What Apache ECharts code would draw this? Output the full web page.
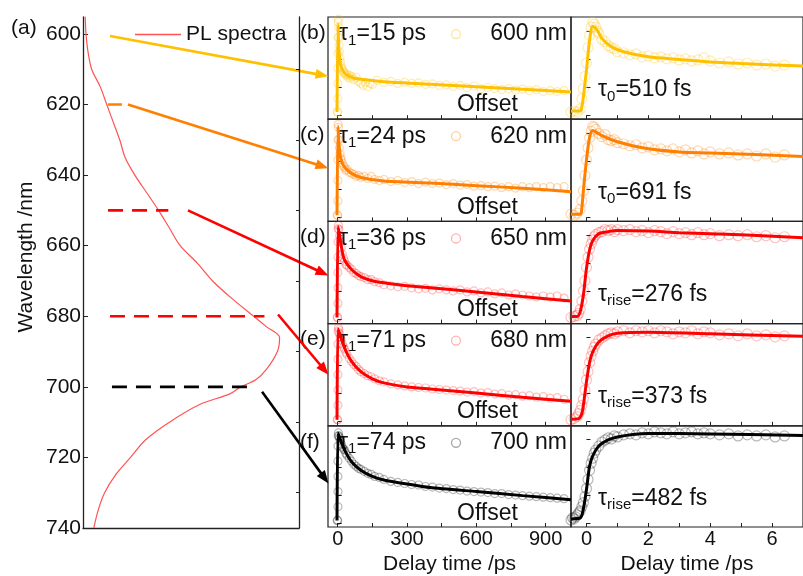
<!DOCTYPE html>
<html>
<head>
<meta charset="utf-8">
<script src="https://cdn.jsdelivr.net/npm/echarts@6.0.0/dist/echarts.min.js"></script>
<style>
  html, body { margin: 0; padding: 0; background: #fff; }
  #chart { width: 803px; height: 576px; }
</style>
</head>
<body>
<div id="chart"></div>
<script>
const FONT = '"Liberation Sans", Arial, sans-serif'

// (a) PL spectrum: wavelength (nm) vs normalised intensity
const plWavelength = [595, 600, 605, 610, 615, 620, 625, 630, 635, 640, 645, 650, 655, 660, 665, 670, 675, 680, 683, 686, 690, 695, 698, 700, 702, 705, 710, 715, 720, 725, 730, 735, 740]
const plIntensity = [0.01, 0.014, 0.023, 0.04, 0.08, 0.11, 0.14, 0.17, 0.195, 0.24, 0.295, 0.35, 0.4, 0.45, 0.53, 0.6, 0.69, 0.79, 0.85, 0.91, 0.9, 0.85, 0.8, 0.73, 0.68, 0.54, 0.4, 0.29, 0.22, 0.15, 0.1, 0.07, 0.05]

// dashed markers in (a): level, start/end intensity
const guideLevels = [620, 650, 680, 700]
const guideStart = [0.116, 0.116, 0.125, 0.134]
const guideEnd = [0.18, 0.395, 0.84, 0.77]
const guideColors = ['#ff7f00', '#ff0000', '#ff0000', '#000000']

// arrows: start in (a) [intensity, nm], tip in panel [ps, signal]
const arrowStarts = [[0.125, 600.6], [0.208, 620], [0.486, 650], [0.903, 679.5], [0.829, 701.4]]
const arrowTips = [[-40, 0.42], [-40, 0.52], [-40, 0.47], [-40, 0.5], [-40, 0.43]]

// panels (b)-(f)
const panelLetters = ['(b)', '(c)', '(d)', '(e)', '(f)']
const probeLabels = ['600 nm', '620 nm', '650 nm', '680 nm', '700 nm']
const tau1Values = ['15', '24', '36', '71', '74']
const fastSubs = ['0', '0', 'rise', 'rise', 'rise']
const fastValues = ['510', '691', '276', '373', '482']
const lineColors = ['#ffc000', '#ff7f00', '#ff0000', '#ff0000', '#000000']
const dotColors = ['rgba(255,192,0,0.38)', 'rgba(255,127,0,0.38)', 'rgba(255,0,0,0.3)', 'rgba(255,0,0,0.3)', 'rgba(0,0,0,0.35)']

// long delay window (ps): measured points
const psDots600 = [[-2,0.07],[0,0.07],[1,0.2],[1,0.35],[1,0.5],[1,0.65],[1,0.8],[2,0.95],[3,0.98],[4,0.9],[5,0.8],[6,0.72],[8,0.66],[10,0.6],[12,0.56],[15,0.52],[18,0.5],[22,0.48],[26,0.46],[30,0.45],[35,0.43],[40,0.44],[45,0.41],[50,0.43],[55,0.4],[60,0.42],[70,0.39],[80,0.41],[90,0.37],[100,0.35],[110,0.33],[120,0.36],[130,0.32],[140,0.35],[150,0.34],[170,0.38],[200,0.36],[230,0.37],[260,0.35],[290,0.36],[320,0.35],[350,0.355],[380,0.34],[410,0.345],[440,0.33],[470,0.335],[500,0.32],[530,0.33],[560,0.31],[590,0.325],[620,0.3],[650,0.31],[680,0.3],[710,0.29],[740,0.3],[770,0.285],[800,0.295],[830,0.28],[860,0.29],[890,0.27],[920,0.28],[950,0.27],[980,0.28]]
const psDots620 = [[-2,0.06],[0,0.06],[1,0.2],[1,0.4],[1,0.6],[1,0.8],[2,0.95],[3,0.92],[5,0.8],[7,0.72],[10,0.66],[13,0.62],[16,0.6],[20,0.57],[25,0.54],[30,0.53],[35,0.5],[40,0.51],[50,0.48],[60,0.47],[70,0.46],[80,0.44],[90,0.45],[100,0.43],[115,0.44],[130,0.42],[145,0.44],[160,0.41],[180,0.4],[200,0.41],[230,0.39],[260,0.4],[290,0.38],[320,0.39],[350,0.37],[380,0.385],[410,0.37],[440,0.375],[470,0.36],[500,0.37],[530,0.355],[560,0.36],[590,0.345],[620,0.35],[650,0.34],[680,0.345],[710,0.33],[740,0.34],[770,0.325],[800,0.34],[830,0.33],[860,0.34],[890,0.33],[920,0.34],[950,0.33],[980,0.34]]
const psDots650 = [[-2,0.06],[0,0.06],[1,0.2],[1,0.35],[1,0.5],[1,0.65],[1,0.8],[2,0.93],[3,0.96],[5,0.92],[8,0.86],[11,0.8],[15,0.74],[20,0.68],[25,0.64],[30,0.61],[35,0.58],[40,0.57],[50,0.55],[60,0.53],[70,0.5],[80,0.49],[90,0.47],[100,0.46],[115,0.45],[130,0.43],[145,0.43],[160,0.41],[180,0.4],[200,0.38],[230,0.37],[260,0.36],[290,0.365],[320,0.35],[350,0.34],[380,0.345],[410,0.33],[440,0.34],[470,0.33],[500,0.32],[530,0.33],[560,0.31],[590,0.32],[620,0.3],[650,0.31],[680,0.29],[710,0.3],[740,0.28],[770,0.29],[800,0.28],[830,0.27],[860,0.26],[890,0.27],[920,0.26],[950,0.27],[980,0.25]]
const psDots680 = [[-2,0.06],[0,0.06],[1,0.2],[1,0.35],[1,0.5],[1,0.65],[1,0.8],[2,0.92],[3,0.96],[5,0.94],[8,0.9],[11,0.87],[15,0.84],[20,0.8],[25,0.77],[30,0.75],[35,0.72],[40,0.7],[50,0.66],[60,0.63],[70,0.6],[80,0.58],[90,0.55],[100,0.53],[115,0.51],[130,0.49],[145,0.48],[160,0.46],[180,0.44],[200,0.43],[230,0.41],[260,0.4],[290,0.39],[320,0.38],[350,0.375],[380,0.37],[410,0.36],[440,0.355],[470,0.35],[500,0.345],[530,0.34],[560,0.33],[590,0.335],[620,0.32],[650,0.325],[680,0.31],[710,0.315],[740,0.3],[770,0.305],[800,0.29],[830,0.295],[860,0.28],[890,0.285],[920,0.27],[950,0.275],[980,0.26]]
const psDots700 = [[-2,0.065],[0,0.065],[1,0.2],[1,0.35],[1,0.5],[1,0.65],[1,0.8],[2,0.9],[3,0.93],[5,0.9],[8,0.88],[11,0.85],[15,0.82],[20,0.79],[25,0.77],[30,0.76],[35,0.73],[40,0.71],[50,0.68],[60,0.65],[70,0.62],[80,0.6],[90,0.58],[100,0.57],[115,0.55],[130,0.53],[145,0.52],[160,0.5],[180,0.49],[200,0.47],[230,0.45],[260,0.44],[290,0.43],[320,0.42],[350,0.415],[380,0.4],[410,0.395],[440,0.385],[470,0.38],[500,0.37],[530,0.365],[560,0.355],[590,0.35],[620,0.345],[650,0.34],[680,0.33],[710,0.33],[740,0.32],[770,0.315],[800,0.31],[830,0.305],[860,0.3],[890,0.295],[920,0.29],[950,0.285],[980,0.28]]

// long delay window (ps): fitted curves
const psFit600 = [[-3,0.07],[0,0.07],[1,0.93],[5,0.68],[10,0.57],[15,0.51],[30,0.45],[60,0.41],[100,0.39],[200,0.367],[400,0.343],[600,0.317],[800,0.293],[1010,0.265]]
const psFit620 = [[-3,0.06],[0,0.06],[1,0.93],[5,0.77],[10,0.66],[15,0.6],[30,0.53],[60,0.47],[100,0.43],[200,0.395],[400,0.375],[600,0.35],[800,0.325],[1010,0.29]]
const psFit650 = [[-3,0.06],[0,0.06],[1,0.95],[5,0.9],[10,0.84],[20,0.7],[30,0.62],[60,0.53],[100,0.46],[150,0.42],[200,0.4],[300,0.37],[400,0.35],[600,0.31],[800,0.265],[1010,0.22]]
const psFit680 = [[-3,0.06],[0,0.06],[1,0.95],[10,0.89],[30,0.76],[60,0.63],[100,0.53],[150,0.46],[200,0.42],[300,0.38],[400,0.36],[600,0.32],[800,0.28],[1010,0.24]]
const psFit700 = [[-3,0.065],[0,0.065],[1,0.93],[10,0.87],[30,0.76],[60,0.645],[100,0.56],[150,0.5],[200,0.465],[300,0.425],[400,0.39],[600,0.35],[800,0.31],[1010,0.27]]

// short delay window (ps): measured points
const fsDots600 = [[-0.5,0.07],[-0.4,0.08],[-0.3,0.07],[-0.2,0.1],[-0.15,0.2],[-0.1,0.3],[-0.05,0.42],[0,0.55],[0.05,0.7],[0.1,0.82],[0.15,0.9],[0.2,0.95],[0.25,0.93],[0.3,0.9],[0.35,0.86],[0.4,0.84],[0.5,0.78],[0.6,0.76],[0.7,0.72],[0.8,0.7],[0.9,0.69],[1.0,0.66],[1.2,0.65],[1.4,0.63],[1.6,0.64],[1.8,0.61],[2.0,0.62],[2.2,0.6],[2.4,0.61],[2.6,0.59],[2.8,0.6],[3.0,0.58],[3.2,0.59],[3.4,0.57],[3.6,0.58],[3.8,0.6],[4.0,0.57],[4.3,0.55],[4.6,0.56],[4.9,0.54],[5.2,0.55],[5.5,0.53],[5.8,0.54],[6.1,0.52],[6.4,0.53]]
const fsDots620 = [[-0.5,0.07],[-0.4,0.06],[-0.3,0.08],[-0.2,0.12],[-0.15,0.2],[-0.1,0.3],[-0.05,0.45],[0,0.6],[0.05,0.72],[0.1,0.82],[0.15,0.88],[0.2,0.93],[0.25,0.92],[0.3,0.9],[0.4,0.86],[0.5,0.83],[0.6,0.85],[0.7,0.8],[0.8,0.79],[0.9,0.8],[1.0,0.77],[1.2,0.76],[1.4,0.74],[1.6,0.75],[1.8,0.72],[2.0,0.73],[2.2,0.7],[2.4,0.71],[2.6,0.69],[2.8,0.71],[3.0,0.68],[3.2,0.7],[3.4,0.67],[3.6,0.69],[3.8,0.66],[4.0,0.68],[4.3,0.66],[4.6,0.67],[4.9,0.65],[5.2,0.66],[5.5,0.64],[5.8,0.66],[6.1,0.63],[6.4,0.65]]
const fsDots650 = [[-0.5,0.06],[-0.4,0.07],[-0.3,0.08],[-0.25,0.1],[-0.2,0.14],[-0.15,0.22],[-0.1,0.32],[-0.05,0.42],[0,0.55],[0.05,0.65],[0.1,0.73],[0.15,0.78],[0.2,0.82],[0.25,0.85],[0.3,0.87],[0.4,0.89],[0.5,0.9],[0.6,0.92],[0.7,0.91],[0.8,0.92],[0.9,0.9],[1.0,0.92],[1.2,0.91],[1.4,0.92],[1.6,0.9],[1.8,0.91],[2.0,0.89],[2.2,0.91],[2.4,0.9],[2.6,0.88],[2.8,0.9],[3.0,0.88],[3.2,0.89],[3.4,0.87],[3.6,0.89],[3.8,0.87],[4.0,0.88],[4.3,0.86],[4.6,0.87],[4.9,0.86],[5.2,0.87],[5.5,0.85],[5.8,0.86],[6.1,0.84],[6.4,0.85]]
const fsDots680 = [[-0.5,0.06],[-0.4,0.07],[-0.3,0.09],[-0.25,0.12],[-0.2,0.15],[-0.15,0.2],[-0.1,0.26],[-0.05,0.35],[0,0.45],[0.05,0.53],[0.1,0.62],[0.15,0.68],[0.2,0.73],[0.25,0.77],[0.3,0.8],[0.4,0.84],[0.5,0.86],[0.6,0.88],[0.7,0.9],[0.8,0.91],[0.9,0.9],[1.0,0.92],[1.2,0.93],[1.4,0.91],[1.6,0.93],[1.8,0.92],[2.0,0.93],[2.2,0.91],[2.4,0.93],[2.6,0.92],[2.8,0.9],[3.0,0.92],[3.2,0.91],[3.4,0.93],[3.6,0.9],[3.8,0.92],[4.0,0.91],[4.3,0.89],[4.6,0.9],[4.9,0.88],[5.2,0.9],[5.5,0.88],[5.8,0.89],[6.1,0.87],[6.4,0.88]]
const fsDots700 = [[-0.5,0.07],[-0.45,0.09],[-0.4,0.08],[-0.35,0.1],[-0.3,0.12],[-0.25,0.14],[-0.2,0.16],[-0.15,0.2],[-0.1,0.24],[-0.05,0.3],[0,0.38],[0.05,0.47],[0.1,0.56],[0.15,0.63],[0.2,0.68],[0.25,0.73],[0.3,0.76],[0.4,0.8],[0.5,0.84],[0.6,0.86],[0.7,0.88],[0.8,0.87],[0.9,0.9],[1.0,0.89],[1.2,0.91],[1.4,0.92],[1.6,0.91],[1.8,0.93],[2.0,0.92],[2.2,0.94],[2.4,0.93],[2.6,0.92],[2.8,0.94],[3.0,0.92],[3.2,0.93],[3.4,0.94],[3.6,0.92],[3.8,0.93],[4.0,0.92],[4.3,0.91],[4.6,0.92],[4.9,0.9],[5.2,0.91],[5.5,0.9],[5.8,0.91],[6.1,0.89],[6.4,0.9]]

// short delay window (ps): fitted curves
const fsFit600 = [[-0.5,0.08],[-0.2,0.08],[-0.15,0.12],[-0.1,0.22],[0,0.48],[0.1,0.77],[0.2,0.91],[0.35,0.87],[0.5,0.79],[0.8,0.71],[1.2,0.66],[2,0.61],[3,0.585],[4,0.56],[5,0.545],[7,0.52]]
const fsFit620 = [[-0.5,0.07],[-0.2,0.07],[-0.15,0.13],[-0.1,0.3],[0,0.6],[0.1,0.82],[0.2,0.89],[0.5,0.84],[1,0.78],[2,0.71],[3,0.68],[4,0.67],[5,0.66],[7,0.635]]
const fsFit650 = [[-0.5,0.07],[-0.3,0.07],[-0.2,0.12],[-0.1,0.28],[0,0.54],[0.1,0.72],[0.2,0.81],[0.4,0.88],[0.7,0.9],[1,0.91],[2,0.905],[3,0.89],[4,0.88],[5,0.87],[7,0.84]]
const fsFit680 = [[-0.5,0.065],[-0.25,0.07],[-0.15,0.12],[-0.1,0.2],[0,0.43],[0.1,0.62],[0.2,0.72],[0.4,0.82],[0.7,0.88],[1,0.905],[2,0.915],[4,0.9],[7,0.875]]
const fsFit700 = [[-0.5,0.08],[-0.2,0.09],[-0.1,0.18],[0,0.37],[0.1,0.6],[0.2,0.7],[0.4,0.8],[0.7,0.86],[1,0.89],[1.5,0.915],[2,0.925],[4,0.92],[7,0.905]]

const psDots = [psDots600, psDots620, psDots650, psDots680, psDots700]
const psFits = [psFit600, psFit620, psFit650, psFit680, psFit700]
const fsDots = [fsDots600, fsDots620, fsDots650, fsDots680, fsDots700]
const fsFits = [fsFit600, fsFit620, fsFit650, fsFit680, fsFit700]

// axis ticks
const wlLabels = [600, 620, 640, 660, 680, 700, 720, 740]
const wlMinor = [610, 630, 650, 670, 690, 710, 730]
const psTicks = [0, 150, 300, 450, 600, 750, 900]
const psLabels = [0, 300, 600, 900]
const fsTicks = [0, 1, 2, 3, 4, 5, 6, 7]
const fsLabels = [0, 2, 4, 6]
const signalTicks = [0.04, 0.315, 0.59, 0.865]

const ROW_TOP = 17
const ROW_H = 102.2
const rowTop = (i) => ROW_TOP + i * ROW_H
const INNER = 23

const chart = echarts.init(document.getElementById('chart'), null, { renderer: 'canvas' })

const grids = [{ left: 83, top: 17, width: 216, height: 511 }]
const xAxes = [{
  gridIndex: 0, type: 'value', min: 0, max: 1,
  axisLine: { show: true, lineStyle: { color: '#222', width: 1.3 } },
  axisTick: { show: false }, axisLabel: { show: false }, splitLine: { show: false },
}]
const yAxes = [{
  gridIndex: 0, type: 'value', inverse: true, min: 595.2, max: 740,
  axisLine: { show: true, lineStyle: { color: '#222', width: 1.3 } },
  axisTick: { show: true, inside: true, length: 5, customValues: wlLabels, lineStyle: { color: '#222' } },
  axisLabel: { show: true, customValues: wlLabels, fontSize: 21, color: '#111', margin: 2, fontFamily: FONT },
  splitLine: { show: false },
}]

for (let i = 0; i < 5; i++) {
  grids.push({ left: 328, top: rowTop(i), width: 243, height: ROW_H, show: true, borderColor: '#222', borderWidth: 1.2 })
}
for (let i = 0; i < 5; i++) {
  grids.push({ left: 571, top: rowTop(i), right: -11, height: ROW_H, show: true, borderColor: '#222', borderWidth: 1.2 })
}

for (let i = 0; i < 5; i++) {
  const last = i === 4
  xAxes.push({
    gridIndex: i + 1, type: 'value', min: -42, max: 1010,
    axisLine: { show: false },
    axisTick: { show: true, inside: true, length: 4, customValues: psTicks, lineStyle: { color: '#222' } },
    axisLabel: { show: last, customValues: psLabels, fontSize: 20, color: '#111', margin: 2, fontFamily: FONT },
    splitLine: { show: false },
    name: last ? 'Delay time /ps' : '', nameLocation: 'middle', nameGap: 27,
    nameTextStyle: { fontSize: 21, color: '#111', fontFamily: FONT },
  })
  yAxes.push({
    gridIndex: i + 1, type: 'value', min: 0, max: 1,
    axisLine: { show: false },
    axisTick: { show: true, inside: true, length: 4, customValues: signalTicks, lineStyle: { color: '#222' } },
    axisLabel: { show: false }, splitLine: { show: false },
  })
}
for (let i = 0; i < 5; i++) {
  const last = i === 4
  xAxes.push({
    gridIndex: i + 6, type: 'value', min: -0.5, max: 7,
    axisLine: { show: false },
    axisTick: { show: true, inside: true, length: 4, customValues: fsTicks, lineStyle: { color: '#222' } },
    axisLabel: { show: last, customValues: fsLabels, fontSize: 20, color: '#111', margin: 2, fontFamily: FONT },
    splitLine: { show: false },
    name: last ? 'Delay time /ps' : '', nameLocation: 'middle', nameGap: 27,
    nameTextStyle: { fontSize: 21, color: '#111', fontFamily: FONT },
  })
  yAxes.push({
    gridIndex: i + 6, type: 'value', min: 0, max: 1,
    axisLine: { show: false },
    axisTick: { show: true, inside: true, length: 4, customValues: signalTicks, lineStyle: { color: '#222' } },
    axisLabel: { show: false }, splitLine: { show: false },
  })
}
// (a): minor ticks and right border
yAxes.push({
  gridIndex: 0, type: 'value', inverse: true, min: 595.2, max: 740,
  axisLine: { show: false },
  axisTick: { show: true, inside: true, length: 3, customValues: wlMinor, lineStyle: { color: '#222' } },
  axisLabel: { show: false }, splitLine: { show: false },
})
yAxes.push({
  gridIndex: 0, type: 'value', position: 'right', min: 0, max: 1,
  axisLine: { show: true, lineStyle: { color: '#222', width: 1.3 } },
  axisTick: { show: false }, axisLabel: { show: false }, splitLine: { show: false },
})

const series = [{
  name: 'PL spectra', type: 'line', xAxisIndex: 0, yAxisIndex: 0,
  data: plWavelength.map((w, i) => [plIntensity[i], w]),
  showSymbol: false, smooth: 0.3, silent: true,
  lineStyle: { color: '#ff5252', width: 1.2 }, itemStyle: { color: '#ff5252' },
}]
guideLevels.forEach((lv, i) => {
  series.push({
    type: 'line', xAxisIndex: 0, yAxisIndex: 0, silent: true, showSymbol: false,
    data: [[guideStart[i], lv], [guideEnd[i], lv]],
    lineStyle: { color: guideColors[i], width: 2.6, type: [15, 9] },
  })
})
for (let i = 0; i < 5; i++) {
  series.push({
    type: 'scatter', xAxisIndex: i + 1, yAxisIndex: i + 1, data: psDots[i], silent: true,
    symbol: 'circle', symbolSize: 8,
    itemStyle: { color: 'rgba(0,0,0,0)', borderColor: dotColors[i], borderWidth: 1.2 },
  })
  series.push({
    type: 'line', xAxisIndex: i + 1, yAxisIndex: i + 1, data: psFits[i], silent: true,
    showSymbol: false, smooth: 0.2, lineStyle: { color: lineColors[i], width: 3 },
  })
  series.push({
    type: 'scatter', xAxisIndex: i + 6, yAxisIndex: i + 6, data: fsDots[i], silent: true,
    symbol: 'circle', symbolSize: 10,
    itemStyle: { color: 'rgba(0,0,0,0)', borderColor: dotColors[i], borderWidth: 1.2 },
  })
  series.push({
    type: 'line', xAxisIndex: i + 6, yAxisIndex: i + 6, data: fsFits[i], silent: true,
    showSymbol: false, smooth: 0.3, lineStyle: { color: lineColors[i], width: 3 },
  })
}

chart.setOption({
  animation: false,
  backgroundColor: '#fff',
  textStyle: { fontFamily: FONT },
  legend: {
    data: ['PL spectra'], left: 130, top: 19, icon: 'rect', itemWidth: 46, itemHeight: 1.5,
    textStyle: { fontSize: 21, color: '#111', fontFamily: FONT },
  },
  grid: grids,
  xAxis: xAxes,
  yAxis: yAxes,
  series,
})

// texts and arrows
const graphics = []
const txt = (x, y, text, size, align, extra) => ({
  type: 'text', x, y, silent: true,
  style: Object.assign({ text, fontSize: size, fontFamily: FONT, fill: '#111', align: align || 'left', verticalAlign: 'middle' }, extra || {}),
})
const tauRich = {
  t: { fontSize: INNER, fontFamily: FONT, fill: '#111' },
  s: { fontSize: 15, fontFamily: FONT, fill: '#111', padding: [13, 0, 0, 0] },
}
graphics.push(txt(11, 28, '(a)', 21))

for (let i = 0; i < 5; i++) {
  const top = rowTop(i)
  graphics.push(txt(300, top + 16, panelLetters[i], 21))
  graphics.push(txt(339, top + 17, '{t|τ}{s|1}{t|=' + tau1Values[i] + ' ps}', INNER, 'left', { rich: tauRich }))
  graphics.push({
    type: 'circle', silent: true, shape: { cx: 456, cy: top + 17, r: 4.5 },
    style: { fill: 'none', stroke: dotColors[i], lineWidth: 1.3 },
  })
  graphics.push(txt(567, top + 17, probeLabels[i], INNER, 'right'))
  graphics.push(txt(457, top + 88, 'Offset', INNER))
  graphics.push(txt(598, top + 73, '{t|τ}{s|' + fastSubs[i] + '}{t|=' + fastValues[i] + ' fs}', INNER, 'left', { rich: tauRich }))
}

graphics.push({
  type: 'text', silent: true, x: 26, y: 257, rotation: Math.PI / 2,
  style: { text: 'Wavelength /nm', fontSize: 21, fontFamily: FONT, fill: '#111', align: 'center', verticalAlign: 'middle' },
})

const arrowColors = ['#ffc000', '#ff7f00', '#ff0000', '#ff0000', '#000000']
for (let i = 0; i < 5; i++) {
  const s = chart.convertToPixel({ gridIndex: 0 }, arrowStarts[i])
  const e = chart.convertToPixel({ gridIndex: i + 1 }, arrowTips[i])
  const dx = e[0] - s[0], dy = e[1] - s[1]
  const len = Math.sqrt(dx * dx + dy * dy)
  const ux = dx / len, uy = dy / len
  const head = 13, half = 5
  const bx = e[0] - ux * head, by = e[1] - uy * head
  graphics.push({
    type: 'line', silent: true,
    shape: { x1: s[0], y1: s[1], x2: e[0] - ux * head * 0.7, y2: e[1] - uy * head * 0.7 },
    style: { stroke: arrowColors[i], lineWidth: 2.6 },
  })
  graphics.push({
    type: 'polygon', silent: true,
    shape: { points: [[e[0], e[1]], [bx - uy * half, by + ux * half], [bx + uy * half, by - ux * half]] },
    style: { fill: arrowColors[i] },
  })
}

chart.setOption({ graphic: graphics })
</script>
</body>
</html>
